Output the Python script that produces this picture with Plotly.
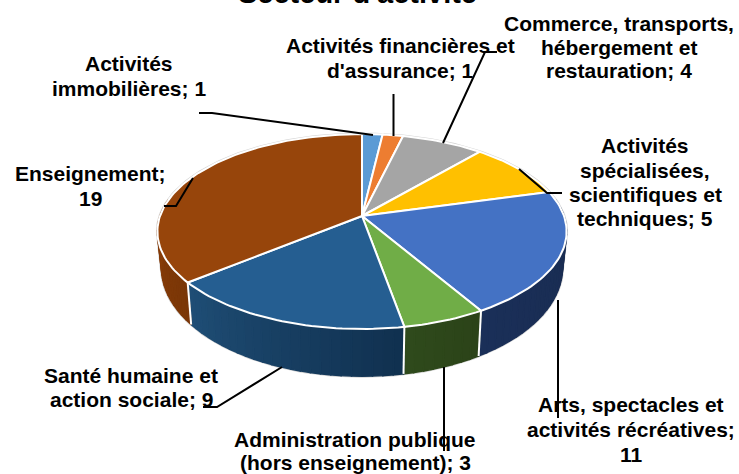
import math
import plotly.graph_objects as go

# --- data ---
categories = ["Activités immobilières", "Activités financières et d'assurance",
              "Commerce, transports, hébergement et restauration",
              "Activités spécialisées, scientifiques et techniques",
              "Arts, spectacles et activités récréatives",
              "Administration publique (hors enseignement)",
              "Santé humaine et action sociale", "Enseignement"]
values = [1, 1, 4, 5, 11, 3, 9, 19]
top_colors = ["#5B9BD5", "#ED7D31", "#A5A5A5", "#FFC000", "#4472C4", "#70AD47", "#255E91", "#97450B"]
wall_left = ["#3A6A95", "#9A4F1E", "#6B6B6B", "#A67D00", "#1A2F58", "#2F4A1C", "#1F4E76", "#8C3F09"]
wall_right = ["#3A6A95", "#9A4F1E", "#6B6B6B", "#A67D00", "#1A2C50", "#2B4318", "#10304F", "#7A3607"]
title_text = "Secteur d'activité"
label_lines = [["Activités", "immobilières; 1"], ["Activités financières et", "d'assurance; 1"],
               ["Commerce, transports,", "hébergement et", "restauration; 4"],
               ["Activités", "spécialisées,", "scientifiques et", "techniques; 5"],
               ["Arts, spectacles et", "activités récréatives;", "11"],
               ["Administration publique", "(hors enseignement); 3"],
               ["Santé humaine et", "action sociale; 9"], ["Enseignement;", "19"]]

# --- layout constants (pixel space of the hidden axes) ---
W, H = 739, 474
CX, CY, RX, RY, B = 362, 216, 202, 95, 0.159
label_x = [129, 400, 619, 645, 631, 355, 131, 90]
label_y = [[63, 88], [45, 70], [23, 47, 70], [145, 170, 194, 218], [404, 429, 454], [439, 462], [375, 399], [173, 198]]
leaders = [[(199, 113), (212, 113), (373, 135)],
           [(393.5, 94), (393.5, 136)],
           [(497, 52), (485, 52), (443, 143)],
           [(562, 193), (547, 193), (519, 169)],
           [(558, 300), (558, 418)],
           [(444, 367), (444, 451)],
           [(282, 367), (217, 407), (203, 407)],
           [(193, 178), (176, 206), (164, 206)]]


def top_pt(a):
    t = math.radians(a)
    u, v = math.sin(t), math.cos(t)
    d = 1 + B * v
    return CX + RX * u / d, CY - RY * v / d


def bot_pt(a):
    t = math.radians(a)
    u, v = math.sin(t), math.cos(t)
    d = 1 + B * v
    return CX + 0.98 * RX * u / d, CY + 34.4 - 1.114 * RY * v / d


def arc(fn, a0, a1, n=None):
    n = n or max(2, int(abs(a1 - a0) / 1.5) + 1)
    return [fn(a0 + (a1 - a0) * i / n) for i in range(n + 1)]


def mix(c1, c2, f):
    p = [int(c1[i:i + 2], 16) for i in (1, 3, 5)]
    q = [int(c2[i:i + 2], 16) for i in (1, 3, 5)]
    return "rgb(%d,%d,%d)" % tuple(round(a + (b - a) * f) for a, b in zip(p, q))


def poly(pts, fill, line=None, width=0, name=None):
    return go.Scatter(x=[p[0] for p in pts] + [pts[0][0]], y=[p[1] for p in pts] + [pts[0][1]],
                      mode="lines", fill="toself", fillcolor=fill,
                      line=dict(color=line or fill, width=width if line else 1.5),
                      hoverinfo="skip" if name is None else "text", text=name, showlegend=False)


fig = go.Figure()
total = sum(values)
edges = [0]
for val in values:
    edges.append(edges[-1] + val / total * 360)

# soft outer rim: back half of the top disc joined to the front half of the bottom disc
rim = arc(top_pt, -100, 100) + arc(bot_pt, 100, 260)
fig.add_trace(poly(rim, "#FFFFFF", "#D4D4D4", 3))

# side walls, drawn with a stepped shade
for i in range(len(values)):
    a0, a1 = max(edges[i], 80), min(edges[i + 1], 280)
    if a1 <= a0:
        continue
    steps = max(1, int((a1 - a0) / 2.5))
    for k in range(steps):
        s0 = a0 + (a1 - a0) * k / steps
        s1 = a0 + (a1 - a0) * (k + 1) / steps
        pts = arc(top_pt, s0, s1, 2) + arc(bot_pt, s1, s0, 2)
        fig.add_trace(poly(pts, mix(wall_right[i], wall_left[i], (k + .5) / steps)))

# white seams at slice boundaries on the walls
for e in edges:
    if 85 < e < 275:
        p, q = top_pt(e), bot_pt(e)
        fig.add_trace(go.Scatter(x=[p[0], q[0]], y=[p[1], q[1]], mode="lines",
                                 line=dict(color="#FFFFFF", width=2),
                                 hoverinfo="skip", showlegend=False))

# top faces
for i, cat in enumerate(categories):
    pts = [(CX, CY)] + arc(top_pt, edges[i], edges[i + 1])
    fig.add_trace(poly(pts, top_colors[i], "#FFFFFF", 2, f"{cat}; {values[i]}"))

# leader lines
for seg in leaders:
    fig.add_trace(go.Scatter(x=[p[0] for p in seg], y=[p[1] for p in seg], mode="lines",
                             line=dict(color="#000000", width=2),
                             hoverinfo="skip", showlegend=False))

FONT = "Liberation Sans, Arial, sans-serif"
annotations = []
for lines, x, ys in zip(label_lines, label_x, label_y):
    for t, y in zip(lines, ys):
        annotations.append(dict(x=x, y=y, text=f"<b>{t}</b>", showarrow=False, xref="x", yref="y",
                                font=dict(family=FONT, size=21, color="#000000")))
annotations.append(dict(x=357 / W, y=1 + 7 / H, text=f"<b>{title_text}</b>", showarrow=False,
                        xref="paper", yref="paper", yanchor="middle",
                        font=dict(family=FONT, size=29, color="#000000")))

fig.update_layout(width=W, height=H, margin=dict(l=0, r=0, t=0, b=0), paper_bgcolor="#FFFFFF",
                  plot_bgcolor="#FFFFFF", showlegend=False, annotations=annotations,
                  xaxis=dict(range=[0, W], visible=False, fixedrange=True),
                  yaxis=dict(range=[H, 0], visible=False, fixedrange=True))
fig.write_html("out.html", config=dict(displayModeBar=False),
               post_script="document.body.style.margin='0';document.documentElement.style.overflow='hidden';")
